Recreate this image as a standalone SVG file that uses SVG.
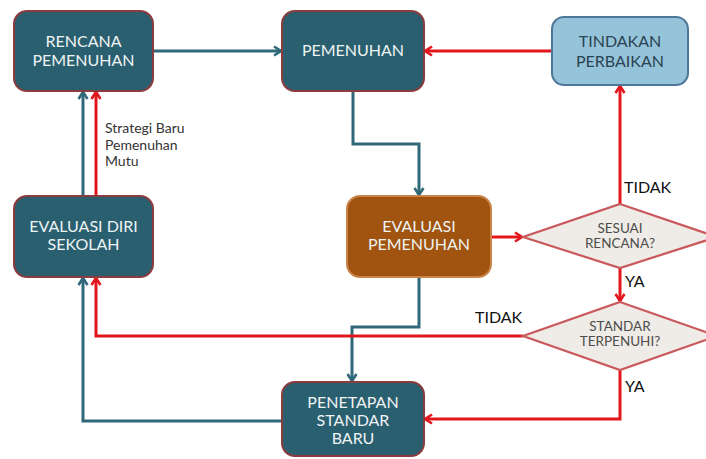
<svg xmlns="http://www.w3.org/2000/svg" width="706" height="459" viewBox="0 0 706 459">
  <style>
    .box { fill: #2a5f6f; stroke: #8b3c3e; stroke-width: 2; }
    .boxtext { font-family: Lato, "Open Sans", "Liberation Sans", sans-serif; font-size: 16px; fill: #eef3f4; text-anchor: middle; }
    .fix { fill: #95c3d9; stroke: #4d7798; stroke-width: 2; }
    .fixtext { font-family: Lato, "Open Sans", "Liberation Sans", sans-serif; font-size: 16px; fill: #2b4352; text-anchor: middle; }
    .evalbox { fill: #a0540f; stroke: #c9844a; stroke-width: 2; }
    .dec { fill: #efebe6; stroke: #c9595c; stroke-width: 2.2; }
    .dectext { font-family: Lato, "Open Sans", "Liberation Sans", sans-serif; font-size: 13.5px; fill: #4d4d4d; text-anchor: middle; }
    .lbl { font-family: Lato, "Open Sans", "Liberation Sans", sans-serif; font-size: 16px; fill: #111; }
    .note { font-family: Lato, "Open Sans", "Liberation Sans", sans-serif; font-size: 14px; fill: #333; }
    .teal { fill: none; stroke: #2f6878; stroke-width: 3; marker-end: url(#ahTeal); }
    .red { fill: none; stroke: #e2161c; stroke-width: 3; marker-end: url(#ahRed); }
  </style>
  <defs>
    <marker id="ahTeal" viewBox="0 0 12 12" refX="10" refY="6" markerWidth="12" markerHeight="12" markerUnits="userSpaceOnUse" orient="auto">
      <path d="M3,1.5 L10,6 L3,10.5" fill="none" stroke="#2f6878" stroke-width="2.6" stroke-linejoin="miter"/>
    </marker>
    <marker id="ahRed" viewBox="0 0 12 12" refX="10" refY="6" markerWidth="12" markerHeight="12" markerUnits="userSpaceOnUse" orient="auto">
      <path d="M3,1.5 L10,6 L3,10.5" fill="none" stroke="#e2161c" stroke-width="2.6" stroke-linejoin="miter"/>
    </marker>
  </defs>

  <rect width="706" height="459" fill="#ffffff"/>

  <!-- connectors -->
  <g id="connectors">
    <path class="teal" d="M153,51 H281"/>
    <path class="red" d="M552,51 H425"/>
    <path class="teal" d="M353,91 V144 H419 V195"/>
    <path class="red" d="M620,204 V86"/>
    <path class="red" d="M491,237 H522"/>
    <path class="red" d="M620,268 V301"/>
    <path class="teal" d="M419,277 V327 H352 V381"/>
    <path class="red" d="M523,336 H96 V278"/>
    <path class="red" d="M620,370 V419 H425"/>
    <path class="teal" d="M282,421 H83 V278"/>
    <path class="teal" d="M83,195 V92"/>
    <path class="red" d="M96,195 V92"/>
    <text class="lbl" x="624" y="193">TIDAK</text>
    <text class="lbl" x="625" y="287">YA</text>
    <text class="lbl" x="475" y="323">TIDAK</text>
    <text class="lbl" x="625" y="392">YA</text>
    <text class="note">
      <tspan x="105" y="133">Strategi Baru</tspan>
      <tspan x="105" y="149.5">Pemenuhan</tspan>
      <tspan x="105" y="166">Mutu</tspan>
    </text>
  </g>

  <g id="rencana-pemenuhan">
    <rect class="box" x="14" y="11" width="139" height="80" rx="13"/>
    <text class="boxtext"><tspan x="83.5" y="47">RENCANA</tspan><tspan x="83.5" y="66">PEMENUHAN</tspan></text>
  </g>

  <g id="pemenuhan">
    <rect class="box" x="282" y="11" width="142" height="80" rx="13"/>
    <text class="boxtext" x="353" y="56">PEMENUHAN</text>
  </g>

  <g id="tindakan-perbaikan">
    <rect class="fix" x="552" y="17" width="136" height="68" rx="12"/>
    <text class="fixtext"><tspan x="620" y="47">TINDAKAN</tspan><tspan x="620" y="67">PERBAIKAN</tspan></text>
  </g>

  <g id="evaluasi-pemenuhan">
    <rect class="evalbox" x="347" y="196" width="144" height="81" rx="13"/>
    <text class="boxtext"><tspan x="419" y="232">EVALUASI</tspan><tspan x="419" y="250">PEMENUHAN</tspan></text>
  </g>

  <g id="evaluasi-diri-sekolah">
    <rect class="box" x="14" y="196" width="139" height="81" rx="13"/>
    <text class="boxtext"><tspan x="83.5" y="232">EVALUASI DIRI</tspan><tspan x="83.5" y="250">SEKOLAH</tspan></text>
  </g>

  <g id="sesuai-rencana">
    <polygon class="dec" points="620,204 717,237 620,268 523,237"/>
    <text class="dectext"><tspan x="620" y="233">SESUAI</tspan><tspan x="620" y="248">RENCANA?</tspan></text>
  </g>

  <g id="standar-terpenuhi">
    <polygon class="dec" points="620,302 717,336 620,370 523,336"/>
    <text class="dectext"><tspan x="620" y="331">STANDAR</tspan><tspan x="620" y="346">TERPENUHI?</tspan></text>
  </g>

  <g id="penetapan-standar-baru">
    <rect class="box" x="282" y="382" width="142" height="74" rx="13"/>
    <text class="boxtext"><tspan x="353" y="408">PENETAPAN</tspan><tspan x="353" y="426">STANDAR</tspan><tspan x="353" y="444">BARU</tspan></text>
  </g>
</svg>
